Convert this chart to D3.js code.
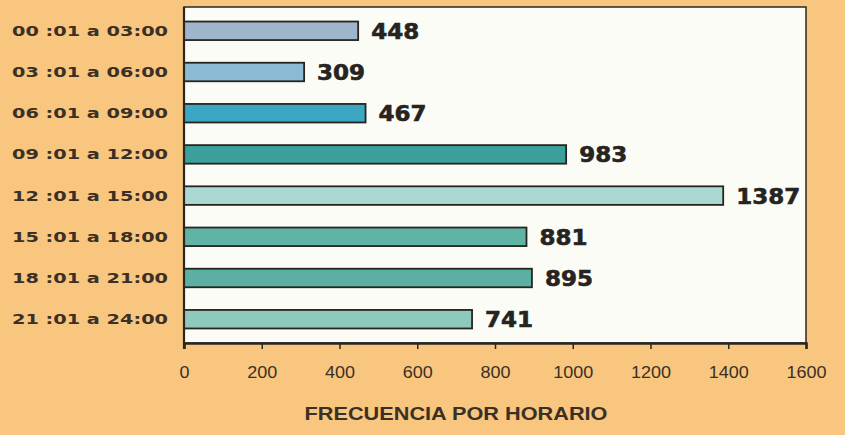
<!DOCTYPE html>
<html lang=es>
<meta charset=utf-8>
<title>Frecuencia por horario</title>
<style>
  html, body { margin: 0; padding: 0; background: #f8c67e; }
  svg { display: block; }
</style>
<svg id=chart width=845 height=435></svg>
<script src=https://cdnjs.cloudflare.com/ajax/libs/d3/7.8.5/d3.min.js></script>
<script>
// datos
var categories = ['00 :01 a 03:00', '03 :01 a 06:00', '06 :01 a 09:00', '09 :01 a 12:00',
                  '12 :01 a 15:00', '15 :01 a 18:00', '18 :01 a 21:00', '21 :01 a 24:00'];
var values = [448, 309, 467, 983, 1387, 881, 895, 741];
var ticks = [0, 200, 400, 600, 800, 1000, 1200, 1400, 1600];
var barColors = ['#9fb5cb', '#8bbad3', '#3ba7c4', '#3b9f9b', '#abd9d2', '#5fb4a6', '#5cb0a3', '#8ecabb'];
var axisTitle = 'FRECUENCIA POR HORARIO';

var svg = d3.select('#chart');
var plotLeft = 184, plotRight = 806, plotTop = 7, plotBottom = 343;

var x = d3.scaleLinear().domain([0, 1600]).range([plotLeft, plotRight]);
var y = d3.scaleBand().domain(categories).range([plotTop + 3, plotBottom - 3]).paddingInner(0.55).paddingOuter(0.28);

// fondo del área
svg.append('rect')
    .attr('x', plotLeft).attr('y', plotTop)
    .attr('width', plotRight - plotLeft).attr('height', plotBottom - plotTop)
    .attr('fill', '#fcfcf7')
    .attr('stroke', '#2b2620').attr('stroke-width', 1.5);

// barras
svg.append('g').selectAll('rect').data(values).join('rect')
    .attr('x', x(0))
    .attr('y', function (d, i) { return y(categories[i]); })
    .attr('width', function (d) { return x(d) - x(0); })
    .attr('height', y.bandwidth())
    .attr('fill', function (d, i) { return barColors[i]; })
    .attr('stroke', '#27241f').attr('stroke-width', 1.8);

// valores
svg.append('g').selectAll('text').data(values).join('text')
    .attr('x', function (d) { return x(d) + 13; })
    .attr('y', function (d, i) { return y(categories[i]) + y.bandwidth() / 2 + 2; })
    .attr('dominant-baseline', 'middle')
    .attr('font-family', 'DejaVu Sans, sans-serif')
    .attr('font-weight', 'bold')
    .attr('font-size', 21)
    .attr('textLength', function (d) { return String(d).length * 16; })
    .attr('lengthAdjust', 'spacingAndGlyphs')
    .attr('fill', '#262320')
    .attr('stroke', '#262320').attr('stroke-width', 0.6)
    .text(function (d) { return d; });

// categorías
svg.append('g').selectAll('text').data(categories).join('text')
    .attr('x', 168)
    .attr('y', function (d) { return y(d) + y.bandwidth() / 2 + 1; })
    .attr('text-anchor', 'end')
    .attr('dominant-baseline', 'middle')
    .attr('font-family', 'DejaVu Sans, sans-serif')
    .attr('font-weight', 'bold')
    .attr('font-size', 14.5)
    .attr('textLength', 156)
    .attr('lengthAdjust', 'spacingAndGlyphs')
    .attr('fill', '#3a3026')
    .text(function (d) { return d; });

// eje x
var gx = svg.append('g').attr('transform', 'translate(0,' + plotBottom + ')')
    .call(d3.axisBottom(x).tickValues(ticks).tickSize(6).tickPadding(17).tickFormat(d3.format('d')));
gx.select('.domain').attr('stroke', '#2b2620').attr('stroke-width', 2.5);
gx.selectAll('.tick line').attr('stroke', '#2b2620').attr('stroke-width', 1.5);
gx.selectAll('.tick text')
    .attr('font-family', 'Liberation Sans, sans-serif')
    .attr('font-size', 17)
    .attr('textLength', function (d) { return String(d).length * 10; })
    .attr('lengthAdjust', 'spacingAndGlyphs')
    .attr('fill', '#3a3026');

// eje izquierdo
svg.append('line')
    .attr('x1', plotLeft).attr('x2', plotLeft).attr('y1', plotTop).attr('y2', plotBottom + 6)
    .attr('stroke', '#2b2620').attr('stroke-width', 2.2);

// título
svg.append('text')
    .attr('x', 456).attr('y', 420)
    .attr('text-anchor', 'middle')
    .attr('font-family', 'Liberation Sans, sans-serif')
    .attr('font-weight', 'bold')
    .attr('font-size', 19)
    .attr('textLength', 303)
    .attr('lengthAdjust', 'spacingAndGlyphs')
    .attr('fill', '#3a3026')
    .text(axisTitle);
</script>
